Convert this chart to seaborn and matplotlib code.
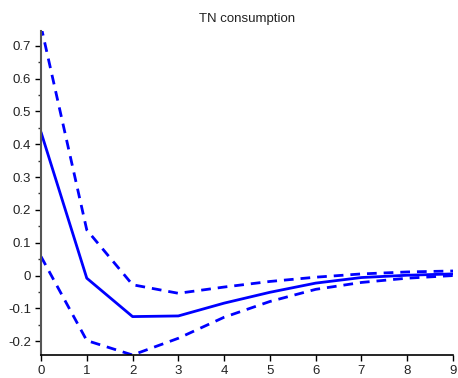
import numpy as np
import pandas as pd
import matplotlib
matplotlib.use("Agg")
import matplotlib.pyplot as plt
import seaborn as sns
from matplotlib.ticker import MultipleLocator

horizon = [0, 1, 2, 3, 4, 5, 6, 7, 8, 9]
response = [0.437, -0.008, -0.125, -0.123, -0.084, -0.051, -0.023, -0.006, 0.001, 0.005]
upper = [0.76, 0.139, -0.028, -0.054, -0.035, -0.018, -0.005, 0.005, 0.011, 0.014]
lower = [0.058, -0.198, -0.242, -0.191, -0.127, -0.079, -0.042, -0.021, -0.008, 0.0]
title = "TN consumption"

sns.set_theme(style="ticks")
plt.rcParams['font.family'] = ['Liberation Sans', 'DejaVu Sans']

fig = plt.figure(figsize=(4.58, 3.78), dpi=100)
ax = fig.add_axes([41/458, 1-355/378, (453-41)/458, (355-31)/378])

df = pd.DataFrame({"h": horizon, "resp": response, "up": upper, "lo": lower})
sns.lineplot(data=df, x="h", y="resp", ax=ax, color="#0000ff", linewidth=2)
sns.lineplot(data=df, x="h", y="up", ax=ax, color="#0000ff", linewidth=2, linestyle=(0, (3.5, 2.5)))
sns.lineplot(data=df, x="h", y="lo", ax=ax, color="#0000ff", linewidth=2, linestyle=(0, (3.5, 2.5)))

ax.set_xlim(0, 9)
ax.set_ylim(-0.242, 0.745)
ax.set_xticks(horizon)
ax.yaxis.set_major_locator(MultipleLocator(0.1))
ax.yaxis.set_minor_locator(MultipleLocator(0.05))
ax.set_yticks([-0.2, -0.1, 0, 0.1, 0.2, 0.3, 0.4, 0.5, 0.6, 0.7])
ax.set_yticklabels(["-0.2", "-0.1", "0", "0.1", "0.2", "0.3", "0.4", "0.5", "0.6", "0.7"])
ax.set_xlabel("")
ax.set_ylabel("")
ax.set_title(title, fontsize=9.5, color="#222222", pad=6.5)
ax.tick_params(axis="both", which="major", labelsize=9.5, length=4, width=1, color="black", labelcolor="#222222", pad=3)
ax.tick_params(axis="y", which="minor", length=2.5, width=1, color="#333333")
for s in ["top", "right"]:
    ax.spines[s].set_visible(False)
ax.spines["left"].set_color("#555555")
ax.spines["left"].set_linewidth(1.5)
ax.spines["bottom"].set_color("black")
ax.spines["bottom"].set_linewidth(1.2)

fig.savefig("out.png", dpi=100)
